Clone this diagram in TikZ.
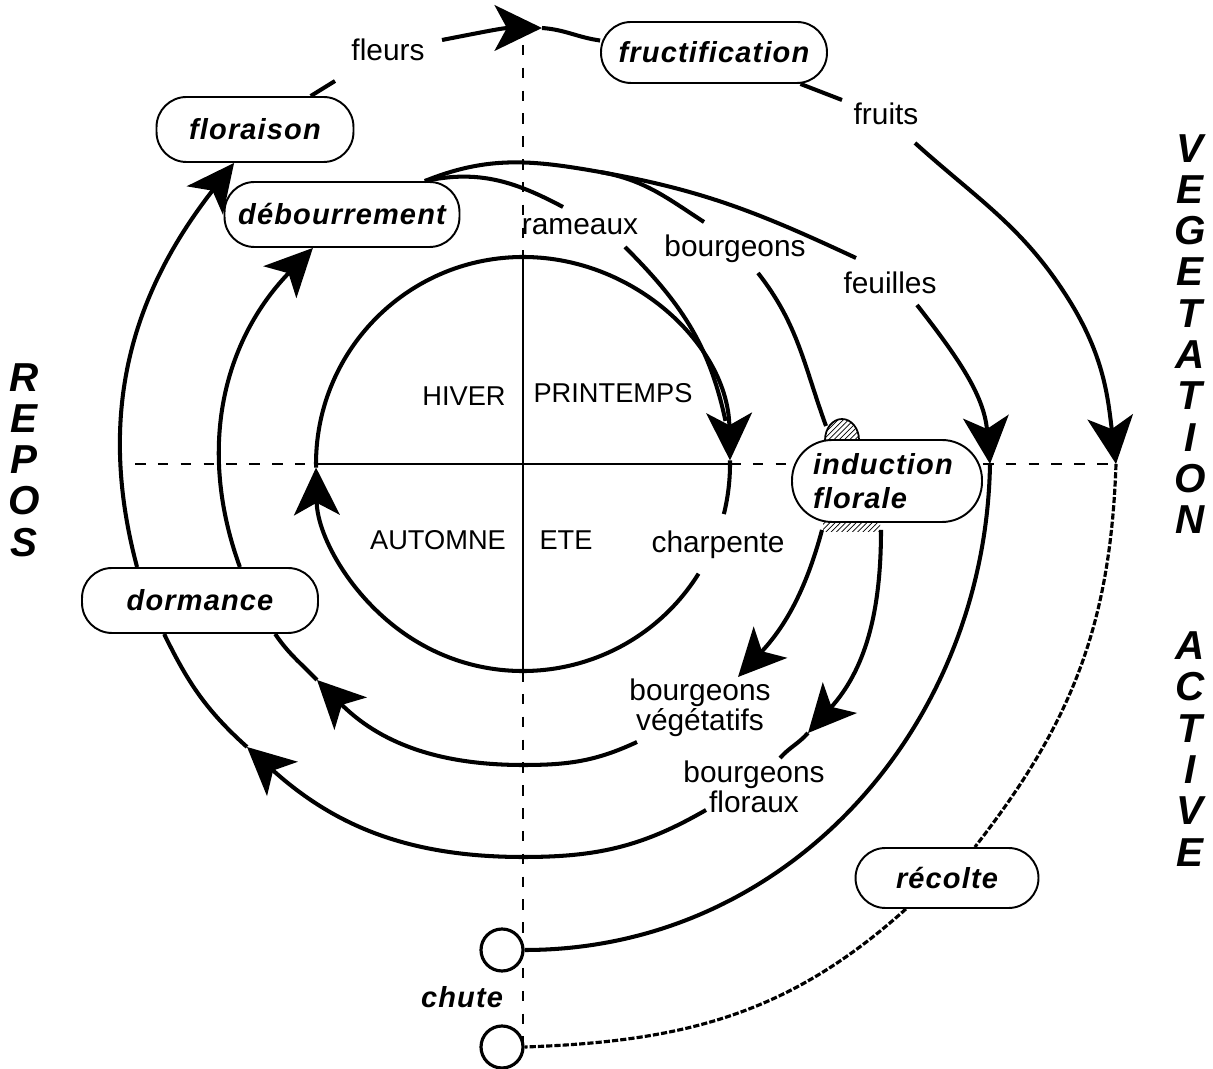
\documentclass[tikz,border=0pt]{standalone}
\usepackage{fontspec}
\setmainfont{Liberation Sans}
\newfontfamily\stagefont[LetterSpace=4]{Liberation Sans}
\usetikzlibrary{arrows.meta,calc,patterns}

\begin{document}
\begin{tikzpicture}[x=0.02cm,y=0.02cm]
% radius of the inner circle
\def\rin{207}
% node style definition
\tikzstyle{stage} = [
	draw, rectangle, rounded corners=0.6cm, line width=1.1pt,
	minimum height=1.3cm, inner sep=2pt,
	font=\stagefont\fontsize{16.5}{19}\selectfont\bfseries\itshape ];
\tikzstyle{stagetext} = [inner sep=0pt,
	font=\stagefont\fontsize{16.5}{19}\selectfont\bfseries\itshape];
\tikzstyle{plain} = [draw=none, fill=none, inner sep=1pt, align=center,
	font=\fontsize{17}{17}\selectfont];
\tikzstyle{season} = [inner sep=1pt, font=\fontsize{15.5}{18}\selectfont];
\tikzstyle{sideword} = [inner sep=0pt, align=center,
	font=\fontsize{23}{23.5}\selectfont\bfseries\itshape];
\tikzstyle{drop} = [draw, circle, line width=1.8pt, minimum size=0.84cm, inner sep=0pt];
% line style definition
\tikzstyle{flowline} = [line width=2.3pt];
\tikzstyle{flowtip} = [-{Stealth[length=27pt, width=26pt, inset=7pt]}];
\tikzstyle{axisline} = [line width=1pt];
\tikzstyle{guideline} = [line width=1pt, dash pattern=on 6pt off 7pt];
\tikzstyle{harvest} = [line width=1.8pt, dash pattern=on 3.5pt off 1.2pt];

\useasboundingbox (0,0) rectangle (1213,1068);

% stages
\node[stage, minimum width=4.52cm, minimum height=1.22cm] (fructif) at (714,1015.5) {fructification};
\node[stage, minimum width=3.94cm] (floraison) at (255,938.5) {floraison};
\node[stage, minimum width=4.7cm] (debour) at (342,853.5) {débourrement};
\node[stage, rounded corners=0.8cm, minimum height=1.64cm, text width=2.96cm,
	inner xsep=0.42cm, align=left] (induc) at (887,587) {induction\\florale};
\node[stage, minimum width=4.72cm] (dormance) at (200,467.5) {dormance};
\node[stage, minimum width=3.66cm, minimum height=1.2cm] (recolte) at (947,190) {récolte};

% organs
\node[plain] (fleurs) at (388,1018) {fleurs};
\node[plain] (fruits) at (886,954) {fruits};
\node[plain] (rameaux) at (580,841) {rameaux};
\node[plain] (bourg) at (735,819) {bourgeons};
\node[plain] (feuilles) at (890,785) {feuilles};
\node[plain] (charp) at (718,523) {charpente};
\node[plain] (bveg) at (700,360) {bourgeons\\végétatifs};
\node[plain] (bflo) at (754,281) {bourgeons\\floraux};

% seasons
\node[season] (hiver) at (464,672) {HIVER};
\node[season] (printemps) at (613,675) {PRINTEMPS};
\node[season] (automne) at (438,528) {AUTOMNE};
\node[season] (ete) at (566,528) {ETE};

% fall
\node[drop] (fall1) at (502,118) {};
\node[drop] (fall2) at (502,21) {};
\node[stagetext] (chute) at (462,71) {chute};

% side words
\node[sideword] (repos) at (24,608) {R\\E\\P\\O\\S};
\node[sideword] (veget) at (1190,734) {V\\E\\G\\E\\T\\A\\T\\I\\O\\N};
\node[sideword] (active) at (1190,319) {A\\C\\T\\I\\V\\E};

% points
\coordinate (ctr) at (523,604);
\coordinate (vtop) at (523,1046);
\coordinate (vin1) at (523,811);
\coordinate (vin2) at (523,397);
\coordinate (vbot) at (523,24);
\coordinate (hl) at (135,604);
\coordinate (hil) at ($(ctr)+(180:\rin)$);
\coordinate (hir) at ($(ctr)+(0:\rin)$);
\coordinate (ic0) at ($(ctr)+(-32:\rin)$);
\coordinate (icl) at ($(ctr)+(-179:\rin)$);
\coordinate (icr) at ($(ctr)+(-359:\rin)$);
\coordinate (merge) at ($(ctr)+(12:\rin)$);
\coordinate (fl1) at (335,987);
\coordinate (fl2) at (442,1028);
\coordinate (fltip) at (542,1040);
\coordinate (fr1) at (842,968);
\coordinate (fr2) at (915,925);
\coordinate (fr3) at (1069,768);
\coordinate (frtip) at (1116,604);
\coordinate (split) at (600,896);
\coordinate (rm1) at (563,861);
\coordinate (rm2) at (625,821);
\coordinate (bg1) at (704,846);
\coordinate (bg2) at (758,795);
\coordinate (dome) at (826,642);
\coordinate (fe1) at (856,810);
\coordinate (fe2) at (917,763);
\coordinate (fetip) at (990,604);
\coordinate (hatchl) at (822,538);
\coordinate (hatchr) at (881,538);
\coordinate (vgtip) at (738,391);
\coordinate (flotip) at (808,335);
\coordinate (flo1) at (780,310);
\coordinate (bflo1) at (706,258);
\coordinate (ob) at (523,211);
\coordinate (obtip) at (247,321);
\coordinate (bveg1) at (637,326);
\coordinate (ib) at (523,303);
\coordinate (ibtip) at (317,388);

% axes
\draw[guideline] (vtop) -- (vin1);
\draw[axisline] (vin1) -- (vin2);
\draw[guideline] (vin2) -- (vbot);
\draw[guideline] (hl) -- (hil);
\draw[axisline] (hil) -- (hir);
\draw[guideline] (hir) -- (induc.west |- hir);
\draw[guideline] (induc.east |- hir) -- (frtip);

% inner circle
\draw[flowline, flowtip] (ic0) arc[start angle=-32, end angle=-179, radius=\rin];
\draw[flowline, flowtip] (icl) arc[start angle=-179, end angle=-359, radius=\rin];
\draw[flowline] (icr) arc[start angle=-359, end angle=-374, radius=\rin];

% flowers and fruits
\draw[flowline] (floraison.31) -- (fl1);
\draw[flowline, flowtip] (fl2) to[out=11, in=180] (fltip);
\draw[flowline] (fltip) to[out=-4, in=172] (fructif.174);
\draw[flowline] (fructif.-20) -- (fr1);
\draw[flowline, flowtip] (fr2) to[out=-42, in=122] (fr3) to[out=-58, in=97] (frtip);
\draw[harvest] (frtip) to[out=-92, in=52] (recolte.48);
\draw[harvest] (recolte.-143) to[out=-138, in=2] (fall2.east);

% from budburst
\draw[flowline] (debour.22) to[out=12, in=152] (rm1);
\draw[flowline] (debour.22) to[out=22, in=170] (split);
\draw[flowline] (split) to[out=-10, in=147] (bg1);
\draw[flowline] (split) to[out=-10, in=155] (fe1);
\draw[flowline] (rm2) to[out=-45, in=102] (merge);
\draw[flowline] (bg2) to[out=-52, in=110] (dome);
\draw[flowline, flowtip] (fe2) to[out=-52, in=95] (fetip);
\draw[flowline] (fetip) to[out=-91, in=0] (fall1.east);

% floral induction
\fill[pattern=north east lines] (823,546) rectangle (880,536);
\draw[line width=1pt, pattern=north east lines] (825,628)
	arc[start angle=180, end angle=0, x radius=17, y radius=21];
\draw[flowline, flowtip] (hatchl) to[out=-105, in=47] (vgtip);
\draw[flowline, flowtip] (hatchr) to[out=-90, in=48] (flotip);
\draw[flowline] (flotip) to[out=-132, in=48] (flo1);

% back to dormancy
\draw[flowline, flowtip] (bflo1) to[out=-150, in=0] (ob) to[out=180, in=-42] (obtip);
\draw[flowline] (obtip) to[out=138, in=-64] (dormance.-137);
\draw[flowline, flowtip] (dormance.152) to[out=105, in=-128] (floraison.-122);
\draw[flowline, flowtip] (bveg1) to[out=-155, in=0] (ib) to[out=180, in=-45] (ibtip);
\draw[flowline] (ibtip) to[out=134, in=-56] (dormance.-24);
\draw[flowline, flowtip] (dormance.40) to[out=110, in=-134] (debour.-131);

\end{tikzpicture}
\end{document}
